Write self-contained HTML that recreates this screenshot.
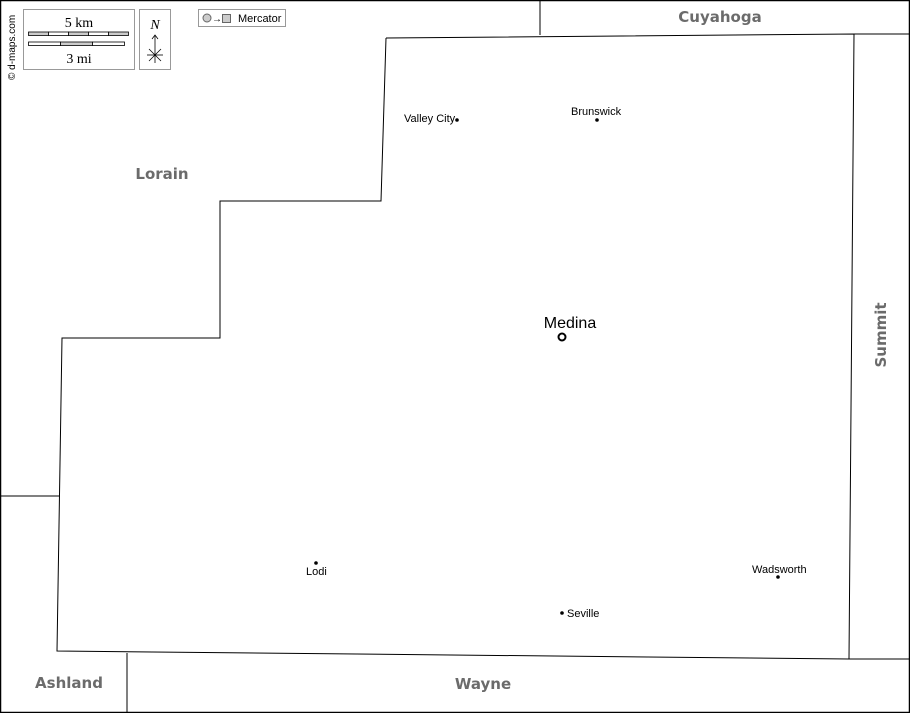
<!DOCTYPE html>
<html><head><style>
body{margin:0;width:910px;height:713px;overflow:hidden;background:#fff}
svg{display:block}
.r{font-family:"DejaVu Sans",sans-serif;font-weight:bold;font-size:15px;fill:#6b6b6b}
.c{font-family:"Liberation Sans",sans-serif;font-size:11px;fill:#000}
</style></head><body>
<svg width="910" height="713" viewBox="0 0 910 713">
<rect x="0.5" y="0.5" width="909" height="712" fill="#fff" stroke="#000" stroke-width="1.5"/>
<g fill="none" stroke="#000" stroke-width="1">
<polyline points="540,0 540,35"/>
<polyline points="386,38 854,34 849,659 57,651 62,338 220,338 220,201 381,201 386,38"/>
<polyline points="854,34 910,34"/>
<polyline points="849,659 910,659"/>
<polyline points="0,496 59,496"/>
<polyline points="127,653 127,713"/>
</g>
<text class="r" x="720" y="22" text-anchor="middle">Cuyahoga</text>
<text class="r" x="162" y="179" text-anchor="middle">Lorain</text>
<text class="r" x="69" y="688" text-anchor="middle">Ashland</text>
<text class="r" x="483" y="689" text-anchor="middle">Wayne</text>
<text class="r" transform="translate(886,335) rotate(-90)" text-anchor="middle">Summit</text>
<text class="c" x="404" y="122">Valley City</text><circle cx="457" cy="120" r="1.8"/>
<text class="c" x="571" y="115">Brunswick</text><circle cx="597" cy="120" r="1.8"/>
<text x="570" y="328" text-anchor="middle" style="font-family:'Liberation Sans',sans-serif;font-size:16px">Medina</text>
<circle cx="562" cy="337" r="3.5" fill="none" stroke="#000" stroke-width="2"/>
<text class="c" x="306" y="575">Lodi</text><circle cx="316" cy="563" r="1.8"/>
<text class="c" x="752" y="573">Wadsworth</text><circle cx="778" cy="577" r="1.8"/>
<text class="c" x="567" y="617">Seville</text><circle cx="562" cy="613" r="1.8"/>
<text transform="translate(15,80) rotate(-90)" style="font-family:'Liberation Sans',sans-serif;font-size:10px">© d-maps.com</text>
<rect x="23.5" y="9.5" width="111" height="60" fill="#fff" stroke="#999"/>
<text x="79" y="27" text-anchor="middle" style="font-family:'Liberation Serif',serif;font-size:14px">5 km</text>
<text x="79" y="63" text-anchor="middle" style="font-family:'Liberation Serif',serif;font-size:14px">3 mi</text>
<g stroke="#000" stroke-width="0.8">
<rect x="28.5" y="32" width="20" height="3.5" fill="#ccc"/><rect x="48.5" y="32" width="20" height="3.5" fill="#fff"/><rect x="68.5" y="32" width="20" height="3.5" fill="#ccc"/><rect x="88.5" y="32" width="20" height="3.5" fill="#fff"/><rect x="108.5" y="32" width="20" height="3.5" fill="#ccc"/>
<rect x="28.5" y="42" width="32" height="3.5" fill="#fff"/><rect x="60.5" y="42" width="32" height="3.5" fill="#ccc"/><rect x="92.5" y="42" width="32" height="3.5" fill="#fff"/>
</g>
<rect x="139.5" y="9.5" width="31" height="60" fill="#fff" stroke="#999"/>
<text x="155" y="29" text-anchor="middle" style="font-family:'Liberation Serif',serif;font-style:italic;font-size:14px">N</text>
<g stroke="#000" stroke-width="0.8"><line x1="155" y1="35" x2="155" y2="63"/><line x1="147" y1="55" x2="163" y2="55"/><line x1="149" y1="49" x2="161" y2="61"/><line x1="161" y1="49" x2="149" y2="61"/><polyline points="152,39 155,35 158,39" fill="none"/></g>
<rect x="198.5" y="9.5" width="87" height="17" fill="#fff" stroke="#999"/>
<circle cx="207" cy="18" r="4" fill="#ccc" stroke="#666"/>
<text x="212" y="22" style="font-family:'Liberation Sans',sans-serif;font-size:10px">→</text>
<rect x="222.5" y="14.5" width="8" height="8" fill="#ccc" stroke="#666"/>
<text x="238" y="22" style="font-family:'Liberation Sans',sans-serif;font-size:11px">Mercator</text>
</svg>
</body></html>
